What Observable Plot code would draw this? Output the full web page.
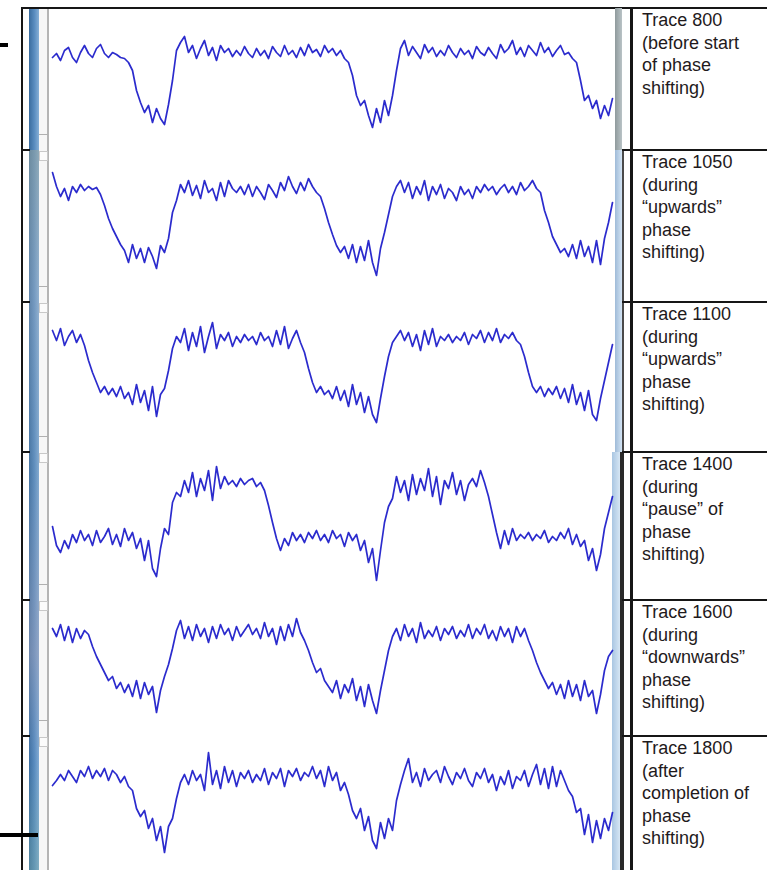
<!DOCTYPE html>
<html><head><meta charset="utf-8">
<script src="https://cdn.jsdelivr.net/npm/d3@7"></script>
<script src="https://cdn.jsdelivr.net/npm/@observablehq/plot@0.6"></script>
<style>
html,body{margin:0;padding:0;background:#fff;}
#fig{position:relative;width:767px;height:870px;overflow:hidden;background:#fff;font-family:"Liberation Sans",Arial,sans-serif;}
.r{position:absolute;}
.lab{position:absolute;left:642px;font-size:18px;line-height:22.5px;color:#1f1a1c;white-space:nowrap;}
.pl{position:absolute;left:0;}
</style></head><body><div id="fig"></div>
<script>
// ---- data: trace amplitudes (arbitrary units), one sample per step ----
const trace800 = [93,97,90,100,103,93,88,98,105,97, 93,102,106,97,93,98,96,93,92,88, 80,60,48,38,45,28,42,32,26,46, 70,100,108,114,98,105,92,102,110,95, 103,90,105,98,102,94,100,95,104,97, 93,102,95,100,92,104,98,94,105,96, 100,93,103,95,106,98,101,94,105,98, 102,95,100,92,88,75,55,45,50,35, 23,42,28,50,35,55,80,102,110,95, 104,98,92,106,98,103,94,100,95,105, 98,93,102,96,100,92,104,98,95,103, 97,92,106,98,102,110,96,103,94,105, 100,95,108,98,103,94,100,105,96,98, 92,88,70,50,55,42,50,32,45,35, 52];
const trace1050 = [130,116,106,114,102,116,110,118,112,116, 113,115,108,97,84,74,66,58,52,40, 58,44,54,40,55,46,34,57,50,64, 90,102,118,110,122,107,117,104,122,110, 114,102,120,106,122,114,110,116,108,118, 106,116,110,103,118,112,105,120,112,126, 116,109,120,112,124,116,110,106,94,80, 68,57,50,56,44,58,40,56,42,62, 40,27,54,70,88,106,116,122,110,120, 104,116,108,122,102,116,108,118,104,114, 110,102,116,108,113,104,116,110,118,112, 116,108,114,118,110,116,108,120,112,116, 122,114,110,92,80,66,58,50,54,46, 58,44,62,46,56,40,62,38,64,80, 100];
const trace1100 = [122,112,124,107,116,122,110,118,107,92, 80,70,60,66,58,64,56,66,54,60, 48,68,50,62,42,66,36,58,64,82, 104,116,110,124,102,120,106,126,100,116, 130,104,118,112,120,106,116,110,118,112, 116,108,120,112,116,106,122,108,126,104, 114,122,110,100,84,70,60,66,58,62, 54,66,52,62,46,68,48,60,40,56, 38,30,54,76,96,110,116,122,112,120, 106,118,102,122,108,124,106,116,112,118, 110,116,112,120,108,118,114,122,110,120, 112,124,110,118,114,120,112,108,96,80, 66,60,66,56,64,58,66,54,64,50, 68,48,60,42,62,38,32,54,72,90, 108];
const trace1400 = [74,55,48,60,52,66,58,70,60,66, 55,70,58,64,72,56,66,54,72,60, 68,52,62,40,60,32,24,52,72,66, 98,108,104,120,108,128,104,122,110,130, 100,134,112,124,116,120,114,122,116,120, 122,114,118,110,95,78,62,50,62,55, 68,60,66,58,68,62,70,60,66,58, 70,62,66,54,68,60,66,50,60,38, 52,20,50,78,94,102,124,108,120,100, 126,106,122,110,132,104,124,96,120,112, 128,106,120,100,116,122,114,130,118,104, 86,68,52,70,56,72,60,66,62,68, 60,66,62,70,58,64,60,68,62,72, 56,66,54,60,40,52,30,46,72,88, 104];
const trace1600 = [108,100,112,96,110,94,108,98,106,102, 90,80,72,64,56,60,48,54,44,52, 40,56,38,54,42,50,24,46,60,72, 88,106,116,98,110,96,112,100,108,94, 110,98,112,102,108,96,110,100,106,112, 102,108,98,114,100,108,92,110,96,112, 100,118,104,96,86,74,64,68,56,50, 44,56,38,52,44,58,36,50,30,52, 36,23,46,66,86,100,108,96,112,100, 108,94,114,98,106,100,110,96,108,102, 110,98,106,100,112,98,108,102,112,98, 106,96,110,100,108,94,110,100,108,96, 86,74,64,56,48,54,42,52,38,56, 40,52,36,56,40,46,23,42,66,80, 86];
const trace1800 = [85,90,96,90,100,94,88,100,94,104, 92,100,94,102,90,100,96,88,94,84, 80,62,54,60,42,52,30,44,18,44, 52,72,88,96,86,100,90,96,80,118, 86,100,82,104,88,100,84,98,92,100, 88,96,90,102,86,98,92,102,84,100, 94,102,90,98,94,104,92,100,84,104, 90,98,80,88,76,60,52,62,40,54, 30,22,48,32,52,40,70,86,100,112, 88,98,84,102,90,96,100,88,104,94, 86,98,92,102,90,84,98,92,102,88, 96,80,94,86,100,82,94,90,100,84, 96,106,86,102,82,104,84,100,90,80, 74,58,62,36,56,28,50,32,52,40, 58];

const traces = [trace800, trace1050, trace1100, trace1400, trace1600, trace1800];

// ---- label texts ----
const labels = [
  ["Trace 800", "(before start", "of phase", "shifting)"],
  ["Trace 1050", "(during", "\u201Cupwards\u201D", "phase", "shifting)"],
  ["Trace 1100", "(during", "\u201Cupwards\u201D", "phase", "shifting)"],
  ["Trace 1400", "(during", "\u201Cpause\u201D of", "phase", "shifting)"],
  ["Trace 1600", "(during", "\u201Cdownwards\u201D", "phase", "shifting)"],
  ["Trace 1800", "(after", "completion of", "phase", "shifting)"]
];

// ---- layout ----
const layout = {
  panelTops: [8, 150, 302, 452, 600, 736],
  panelBottoms: [150, 302, 452, 600, 736, 870],
  W: 767
};

const fig = document.getElementById("fig");
function box(x, y, w, h, bg, extra) {
  const d = document.createElement("div");
  d.className = "r";
  d.style.left = x + "px"; d.style.top = y + "px";
  d.style.width = w + "px"; d.style.height = h + "px";
  d.style.background = bg;
  if (extra) Object.assign(d.style, extra);
  fig.appendChild(d);
  return d;
}

// left decorations
box(29, 8, 10, 862, "linear-gradient(to right,#3a6c9e,#5a8dc0 55%,#86afd6)");
box(29, 150, 10, 720, "linear-gradient(to bottom,rgba(150,165,160,0.55),rgba(170,180,195,0.35) 20%,rgba(120,150,180,0.2) 45%,rgba(160,160,185,0.5) 70%,rgba(80,130,190,0.1) 85%,rgba(120,170,160,0.4))");
box(39, 8, 8, 862, "#f6f6f6");
box(47, 8, 2, 862, "#b4b4b4");
box(21, 8, 2, 862, "#161616");
box(21, 7, 746, 2, "#161616");
box(0, 43, 8, 4, "#000");
box(0, 833, 38, 4, "#000");

// right decorations
box(615, 8, 7, 142, "linear-gradient(to right,#8f9a9c,#b9c3c6)");
box(615, 150, 7, 302, "linear-gradient(to right,#9fbbd8,#d3e4f4)");
box(612, 452, 8, 418, "linear-gradient(to right,#a9c6e2,#d6e6f4)");
box(622, 150, 1.5, 302, "#4a4a4a");
box(620, 452, 4, 418, "#2a2a2a");
box(630, 8, 3, 862, "#161616");

layout.panelTops.slice(1).forEach(y => {
  box(21, y - 1, 9, 2, "#161616");
  box(622, y - 1, 145, 2, "#161616");
  box(39, y - 16, 9, 1, "#b0b0b0");
  box(39, y + 1, 9, 10, "#fbfbfb", {border: "1px solid #c8c8c8", boxSizing: "border-box"});
});

// panels
traces.forEach((vals, k) => {
  const top = layout.panelTops[k];
  const H = layout.panelBottoms[k] - top;
  const chart = Plot.plot({
    width: layout.W, height: H,
    marginLeft: 52, marginRight: 155, marginTop: 0, marginBottom: 0,
    x: {domain: [0, 140], axis: null},
    y: {domain: [0, H], axis: null},
    style: {background: "transparent", overflow: "visible"},
    marks: [
      Plot.line(vals, {x: (d, i) => i, y: d => d, stroke: "#1414c8", strokeWidth: 1.7, strokeOpacity: 0.9, strokeLinejoin: "round", curve: "linear"})
    ]
  });
  chart.classList.add("pl");
  chart.style.top = top + "px";
  fig.appendChild(chart);

  const lab = document.createElement("div");
  lab.className = "lab";
  lab.style.top = (top + 1) + "px";
  lab.innerHTML = labels[k].join("<br>");
  fig.appendChild(lab);
});
</script>
</body></html>
